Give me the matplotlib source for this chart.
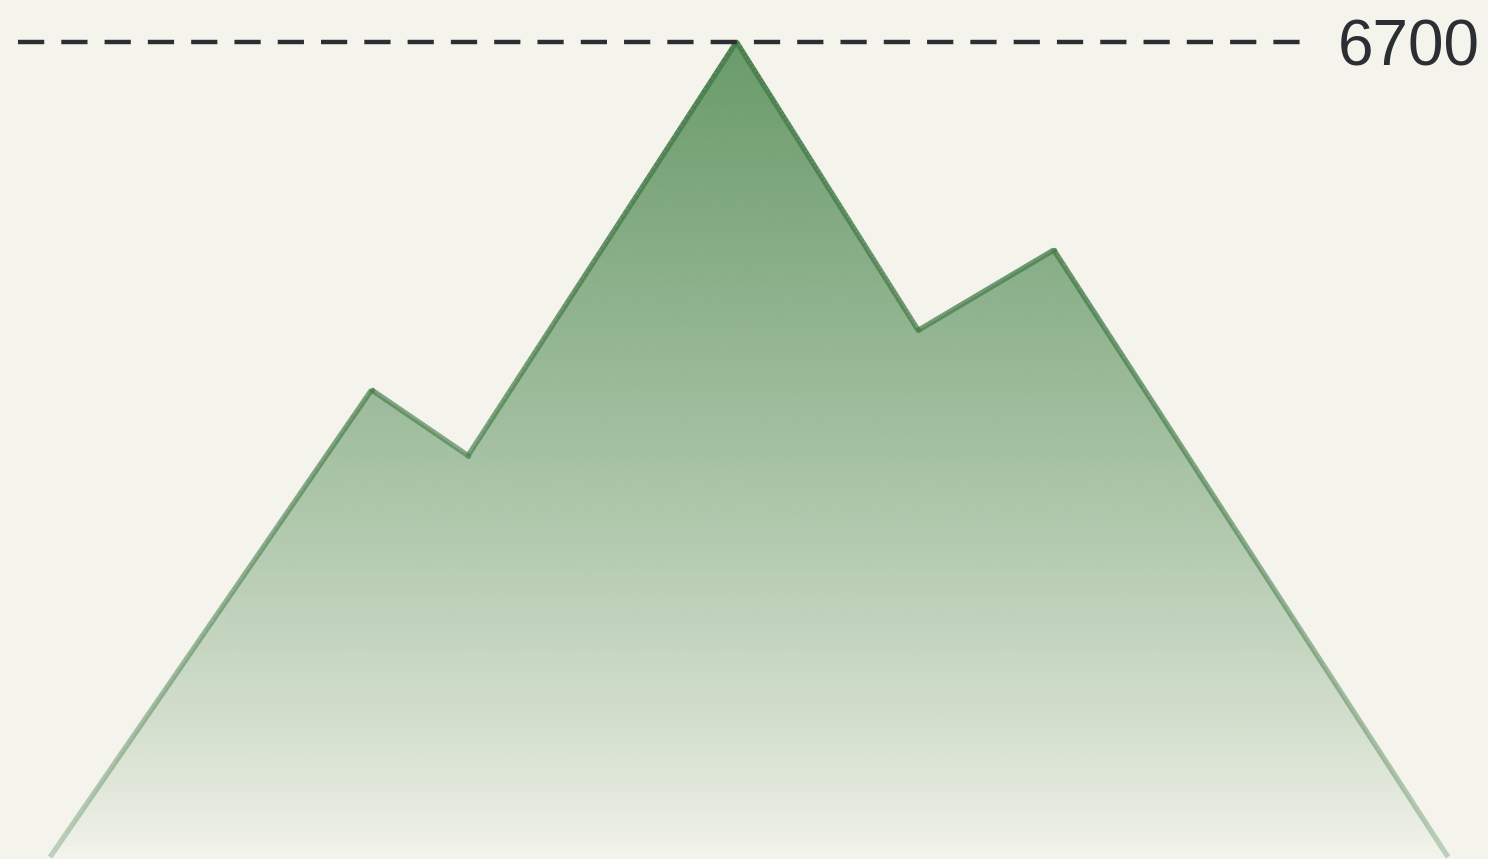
import numpy as np
import matplotlib
matplotlib.use("Agg")
import matplotlib.pyplot as plt
from matplotlib.collections import LineCollection
from matplotlib.colors import to_rgb

# profile points (position along the ridge, elevation)
dist = [0, 23.0, 29.9, 49.1, 62.1, 71.8, 100]
elev = [0, 3840, 3300, 6700, 4330, 4990, 0]
peak_label = "6700"
peak = max(elev)

bg = "#f4f4ec"
fill_col = to_rgb("#5f9461")
line_col = to_rgb("#4a7f4e")

fig = plt.figure(figsize=(14.88, 8.59), dpi=100)
fig.patch.set_facecolor(bg)
ax = fig.add_axes([0, 0, 1, 1])
ax.set_facecolor(bg)
xlim = (-3.58, 102.86)
ylim = (-16, 7045)


def fade(y, lo, hi):
    return lo + (hi - lo) * (y / peak) ** 0.8


# gradient fill clipped to the mountain polygon
poly = ax.fill(dist, elev, facecolor="none", edgecolor="none")[0]
v = np.linspace(0, peak, 300)
img = np.zeros((len(v), 1, 4))
img[:, 0, :3] = fill_col
img[:, 0, 3] = fade(v, 0.0, 0.93)
im = ax.imshow(img, extent=[xlim[0], xlim[1], 0, peak], origin="lower",
               aspect="auto", zorder=1, interpolation="bilinear")
im.set_clip_path(poly)

# outline, fading towards the base
segs, cols = [], []
for i in range(len(dist) - 1):
    t = np.linspace(0, 1, 80)
    xs = dist[i] + (dist[i + 1] - dist[i]) * t
    ys = elev[i] + (elev[i + 1] - elev[i]) * t
    for j in range(len(t) - 1):
        segs.append([(xs[j], ys[j]), (xs[j + 1], ys[j + 1])])
        ym = 0.5 * (ys[j] + ys[j + 1])
        cols.append((*line_col, fade(ym, 0.3, 1.0)))
lc = LineCollection(segs, colors=cols, linewidths=3.8, capstyle="butt", zorder=2)
ax.add_collection(lc)
# round the joints at the vertices
for x, y in zip(dist[1:-1], elev[1:-1]):
    ax.plot(x, y, "o", ms=3.8, mew=0, color=(*line_col, fade(y, 0.3, 1.0)), zorder=2)

# peak reference line and label
ax.plot([-2.29, 89.4], [peak, peak], color="#2b2f33", lw=3.2,
        dashes=(5.9, 3.84), zorder=3)
ax.text(92.1, peak - 55, peak_label, ha="left", va="center", fontsize=46,
        color="#2b2f33", family=["Liberation Sans", "DejaVu Sans"], zorder=4)

ax.set_xlim(*xlim)
ax.set_ylim(*ylim)
ax.axis("off")

fig.savefig("out.png", dpi=100, facecolor=bg)
